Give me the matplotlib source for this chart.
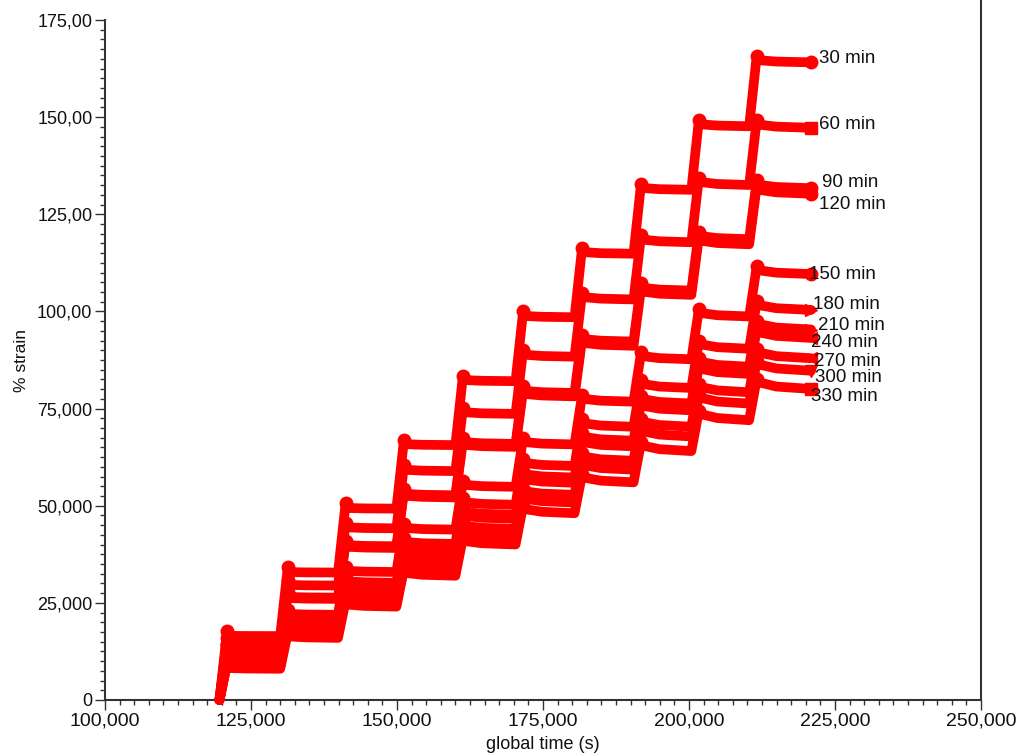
import matplotlib
matplotlib.use("Agg")
import matplotlib.pyplot as plt
from matplotlib.lines import Line2D
from matplotlib.ticker import MultipleLocator, FixedLocator, FixedFormatter

plt.rcParams['font.family'] = ['Liberation Sans', 'DejaVu Sans']

# Start times of each loading ramp (s) and end of the record
step_times = [119600, 130000, 139900, 149900, 160000, 170300, 180400, 190500, 200400, 210300]
end_time = 220900
ramp_time = 1300      # duration of each ramp (s)
settle_time = 800     # time from peak to settled hold level (s)

series_names = ['30 min', '60 min', '90 min', '120 min', '150 min', '180 min',
                '210 min', '240 min', '270 min', '300 min', '330 min']

# Settled strain (%) at the start of each of the ten holds
levels_30 = [16.5, 32.9, 49.4, 65.8, 82.3, 98.8, 115.2, 131.7, 148.1, 164.6]
levels_60 = [14.8, 29.6, 44.4, 59.2, 74.0, 88.8, 103.6, 118.4, 133.2, 148.0]
levels_90 = [13.3, 26.5, 39.8, 53.0, 66.3, 79.5, 92.8, 106.0, 119.3, 132.5]
levels_120 = [13.1, 26.2, 39.4, 52.5, 65.6, 78.7, 91.8, 105.0, 118.1, 131.2]
levels_150 = [11.1, 22.1, 33.2, 44.2, 55.3, 66.3, 77.4, 88.4, 99.5, 110.5]
levels_180 = [10.2, 20.3, 30.5, 40.6, 50.8, 60.9, 71.1, 81.2, 91.4, 101.5]
levels_210 = [9.7, 19.3, 29.0, 38.6, 48.3, 58.0, 67.6, 77.3, 86.9, 96.6]
levels_240 = [9.5, 18.9, 28.4, 37.8, 47.3, 56.7, 66.2, 75.6, 85.1, 94.5]
levels_270 = [8.9, 17.9, 26.8, 35.7, 44.7, 53.6, 62.5, 71.4, 80.4, 89.3]
levels_300 = [8.6, 17.2, 25.9, 34.5, 43.1, 51.7, 60.3, 69.0, 77.6, 86.2]
levels_330 = [8.2, 16.3, 24.5, 32.6, 40.8, 49.0, 57.1, 65.3, 73.4, 81.6]

all_levels = [levels_30, levels_60, levels_90, levels_120, levels_150, levels_180,
              levels_210, levels_240, levels_270, levels_300, levels_330]

# Fraction of the strain lost over each hold, and overshoot at each peak (% strain)
relax_frac = [0.003, 0.005, 0.006, 0.007, 0.008, 0.011, 0.013, 0.014, 0.015, 0.017, 0.019]
overshoot = [1.2, 1.2, 1.2, 1.1, 1.1, 1.1, 1.0, 1.0, 1.0, 1.0, 1.0]

end_markers = ['o', 's', 'o', 'o', 'o', '>', '>', '<', '<', 'v', 's']

# Label anchor positions (time, strain)
label_x = [222260, 222260, 222780, 222260, 220550, 221230, 222090, 220890, 221400, 221570, 220890]
label_y = [165.2, 148.2, 133.3, 127.6, 109.6, 101.9, 96.5, 92.1, 87.2, 83.1, 78.0]

fig = plt.figure(figsize=(10.16, 7.56), dpi=100)
W, H = 1016, 756
ax = fig.add_axes([105 / W, (H - 700) / H, (981 - 105) / W, 680 / H])

red = '#ff0000'
for lv, fr, ov, mk in zip(all_levels, relax_frac, overshoot, end_markers):
    xs, ys = [], []
    peaks = []
    prev = 0.0
    for i, (t0, L) in enumerate(zip(step_times, lv)):
        t_next = step_times[i + 1] if i + 1 < len(step_times) else end_time
        t_hold = t0 + ramp_time + settle_time
        # fast early relaxation, then a slow drift to the end of the hold
        xs += [t0, t0 + ramp_time, t_hold, t_hold + 0.3 * (t_next - t_hold), t_next]
        ys += [prev, L + ov, L, L * (1 - 0.6 * fr), L * (1 - fr)]
        peaks.append(len(xs) - 4)
        prev = L * (1 - fr)
    ax.plot(xs, ys, color=red, lw=7, solid_joinstyle='round',
            solid_capstyle='round', clip_on=False, zorder=3)
    ax.plot([xs[j] for j in peaks], [ys[j] for j in peaks], ls='none', marker='o',
            ms=9, color=red, clip_on=False, zorder=3)
    ax.plot(xs[-1:], ys[-1:], ls='none', marker=mk, ms=9, color=red,
            clip_on=False, zorder=3)

for name, x, y in zip(series_names, label_x, label_y):
    ax.text(x, y, name, fontsize=13.5, ha='left', va='center', color='#111111',
            clip_on=False)

ax.set_xlim(100000, 250000)
ax.set_ylim(0, 175)

ax.xaxis.set_major_locator(FixedLocator([100000, 125000, 150000, 175000, 200000, 225000, 250000]))
ax.xaxis.set_major_formatter(FixedFormatter(['100,000', '125,000', '150,000', '175,000',
                                             '200,000', '225,000', '250,000']))
ax.xaxis.set_minor_locator(MultipleLocator(2500))
ax.yaxis.set_major_locator(FixedLocator([0, 25, 50, 75, 100, 125, 150, 175]))
ax.yaxis.set_major_formatter(FixedFormatter(['0', '25,000', '50,000', '75,000',
                                             '100,00', '125,00', '150,00', '175,00']))
ax.yaxis.set_minor_locator(MultipleLocator(2.5))

ax.tick_params(which='major', direction='out', length=7, width=1.0, color='#333333',
               labelsize=13, pad=2, labelcolor='#111111')
ax.tick_params(axis='x', which='major', labelsize=14)
ax.tick_params(which='minor', direction='out', length=3.5, width=1.0, color='#333333')

for s in ['top', 'right']:
    ax.spines[s].set_visible(False)
for s in ['left', 'bottom']:
    ax.spines[s].set_linewidth(1.5)
    ax.spines[s].set_color('#333333')

# right-hand frame line running to the top of the figure
fig.add_artist(Line2D([981 / W, 981 / W], [(H - 700) / H, 1.0], color='#333333',
                      lw=1.5, transform=fig.transFigure))

ax.set_xlabel('global time (s)', fontsize=13, color='#111111', labelpad=5)
ax.set_ylabel('% strain', fontsize=12.5, color='#111111', labelpad=6)

fig.savefig('out.png', dpi=100)
